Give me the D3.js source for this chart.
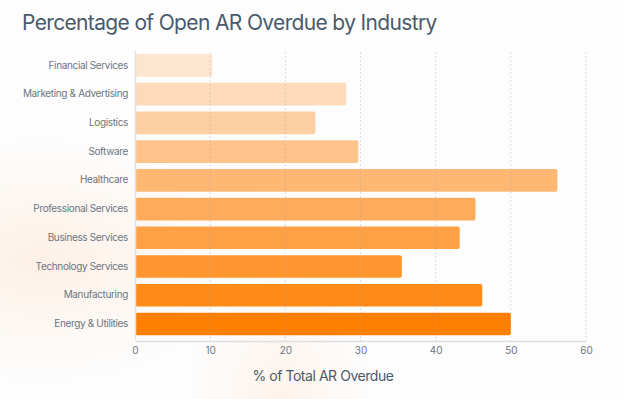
<!DOCTYPE html>
<html>
<meta charset="utf-8">
<title>Percentage of Open AR Overdue by Industry</title>
<style>
  body { margin: 0; background: #fdfdfd; }
  svg { display: block; }
  text { font-family: Inter, "Open Sans", sans-serif; }
  .tick text { fill: #6b7684; font-size: 10px; }
</style>
<script src="https://d3js.org/d3.v7.min.js"></script>
<body>
<script>
// data
var industries = ['Financial Services', 'Marketing & Advertising', 'Logistics', 'Software',
  'Healthcare', 'Professional Services', 'Business Services', 'Technology Services',
  'Manufacturing', 'Energy & Utilities'];
var overduePct = [10.3, 28.1, 24.0, 29.7, 56.2, 45.3, 43.2, 35.5, 46.2, 50.0];
var xTicks = [0, 10, 20, 30, 40, 50, 60];

var W = 624, H = 399;
var svg = d3.select('body').append('svg').attr('width', W).attr('height', H);

// soft background glows
var defs = svg.append('defs');
function glow(id, c) {
  var g = defs.append('radialGradient').attr('id', id);
  g.append('stop').attr('offset', '0%').attr('stop-color', c).attr('stop-opacity', 0.55);
  g.append('stop').attr('offset', '100%').attr('stop-color', c).attr('stop-opacity', 0);
}
glow('g1', '#fde6d3');
glow('g2', '#fdebdc');
svg.append('rect').attr('width', W).attr('height', H).attr('fill', '#fdfdfd');
svg.append('ellipse').attr('cx', 40).attr('cy', 260).attr('rx', 200).attr('ry', 120).attr('fill', 'url(#g1)');
svg.append('ellipse').attr('cx', 280).attr('cy', 400).attr('rx', 90).attr('ry', 140).attr('fill', 'url(#g2)');

var x = d3.scaleLinear().domain([0, 60]).range([135, 586]);
var y = d3.scaleBand().domain(industries).range([50.5, 338.8]).paddingInner(0.21).paddingOuter(0.12);
var color = d3.scaleLinear().domain([0, industries.length - 1])
  .range(['#fde5d0', '#ff7f00']).interpolate(d3.interpolateRgb);

svg.append('text')
  .attr('x', 22).attr('y', 30)
  .attr('fill', '#4a5a6a')
  .style('font-size', '21px')
  .style('letter-spacing', '-0.65px')
  .text('Percentage of Open AR Overdue by Industry');

// bars
svg.selectAll('rect.bar')
  .data(industries)
  .enter().append('rect')
  .attr('class', 'bar')
  .attr('x', x(0))
  .attr('y', function(d) { return y(d); })
  .attr('width', function(d, i) { return x(overduePct[i]) - x(0); })
  .attr('height', y.bandwidth())
  .attr('rx', 2)
  .attr('fill', function(d, i) { return color(i); });

// dotted grid
svg.append('g').selectAll('line')
  .data(xTicks.slice(1))
  .enter().append('line')
  .attr('x1', function(d) { return x(d); })
  .attr('x2', function(d) { return x(d); })
  .attr('y1', 52).attr('y2', 341)
  .attr('stroke', '#9aa0a8').attr('stroke-opacity', 0.35)
  .attr('stroke-dasharray', '2,2');

// axes
var xAxis = svg.append('g')
  .attr('transform', 'translate(0,341)')
  .call(d3.axisBottom(x).tickValues(xTicks).tickSize(0).tickPadding(6));
xAxis.select('.domain').attr('stroke', '#dde0e4').attr('stroke-width', 1.5);

var yAxis = svg.append('g')
  .attr('transform', 'translate(135,0)')
  .call(d3.axisLeft(y).tickSize(0).tickPadding(7));
yAxis.select('.domain').attr('stroke', '#dde0e4').attr('stroke-width', 1.5);
yAxis.selectAll('.tick text').attr('fill', '#56616e')
  .style('font-size', '10px').style('letter-spacing', '-0.35px');

svg.append('text')
  .attr('x', 323).attr('y', 381)
  .attr('text-anchor', 'middle')
  .attr('fill', '#4a5a6a')
  .style('font-size', '14px')
  .style('letter-spacing', '-0.45px')
  .text('% of Total AR Overdue');
</script>
</body>
</html>
